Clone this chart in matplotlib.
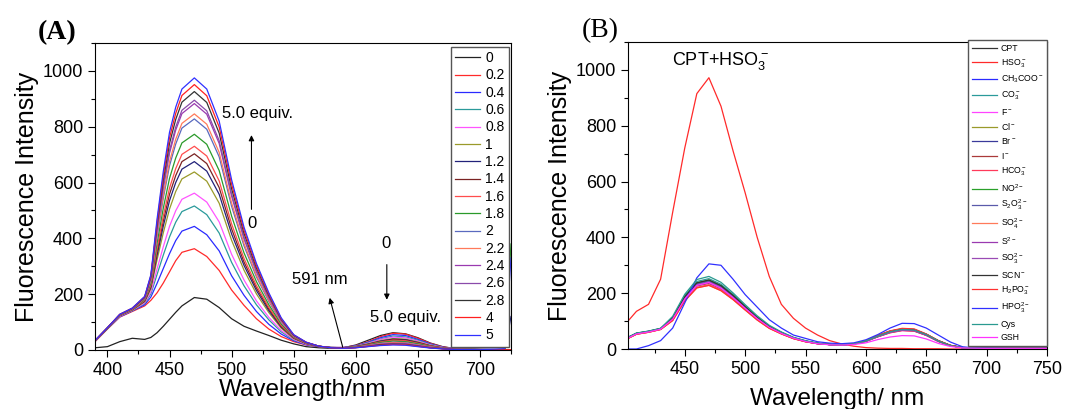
import matplotlib
matplotlib.use("Agg")
import matplotlib.pyplot as plt
from matplotlib.ticker import MultipleLocator

plt.rcParams['font.family'] = ['Liberation Sans', 'DejaVu Sans']
plt.rcParams['mathtext.default'] = 'regular'

# ---------------- panel A: titration data ----------------
wl_a = [390, 400, 410, 420, 430, 435, 440, 445, 450, 455, 460, 470, 480, 490, 500, 510, 520, 530,
        540, 550, 560, 570, 580, 590, 600, 610, 620, 630, 640, 650, 660, 670, 680, 700, 720, 725]

a_0 = [8, 12, 30, 42, 38, 45, 62, 85, 110, 135, 158, 188, 182, 152, 112, 85, 68, 52, 35, 22, 12, 8, 6, 8, 18, 35, 52, 62, 58, 44, 25, 12, 5, 2, 1, 1]
a_02 = [30, 75, 118, 138, 158, 178, 205, 240, 280, 320, 350, 363, 335, 285, 215, 160, 112, 75, 48, 30, 18, 12, 9, 9, 16, 30, 48, 60, 57, 42, 24, 11, 5, 2, 1, 1]
a_04 = [31, 76, 119, 140, 162, 190, 239, 292, 345, 392, 426, 443, 413, 355, 266, 196, 138, 92, 57, 33, 19, 12, 9, 9, 15, 28, 44, 55, 52, 38, 22, 10, 5, 2, 1, 1]
a_06 = [31, 76, 121, 141, 167, 201, 271, 340, 405, 458, 496, 516, 485, 419, 314, 230, 162, 108, 65, 36, 21, 13, 9, 8, 14, 26, 40, 50, 47, 35, 20, 9, 4, 2, 1, 1]
a_08 = [31, 77, 121, 142, 169, 208, 291, 370, 443, 499, 540, 562, 530, 459, 343, 251, 176, 117, 70, 38, 21, 13, 9, 8, 13, 24, 38, 46, 44, 32, 18, 9, 4, 2, 1, 1]
a_1 = [32, 77, 123, 143, 173, 219, 324, 420, 505, 568, 613, 638, 605, 526, 393, 286, 201, 134, 78, 41, 23, 13, 9, 8, 12, 22, 34, 41, 39, 29, 16, 8, 4, 2, 1, 1]
a_12 = [32, 78, 123, 144, 175, 225, 340, 444, 535, 600, 648, 675, 641, 558, 416, 303, 213, 141, 82, 43, 23, 13, 9, 8, 12, 21, 32, 39, 37, 27, 15, 7, 4, 2, 1, 120]
a_14 = [32, 78, 124, 145, 177, 229, 352, 462, 558, 625, 675, 703, 668, 582, 434, 315, 222, 147, 85, 44, 24, 13, 8, 7, 12, 20, 30, 37, 35, 25, 15, 7, 3, 1, 1, 1]
a_16 = [32, 78, 124, 145, 178, 233, 364, 480, 580, 650, 701, 730, 695, 606, 452, 328, 231, 153, 88, 45, 24, 13, 8, 7, 11, 19, 29, 35, 33, 24, 14, 7, 3, 1, 1, 1]
a_18 = [33, 78, 125, 146, 181, 240, 383, 508, 615, 688, 742, 773, 737, 643, 480, 348, 245, 162, 93, 47, 25, 13, 8, 7, 11, 18, 27, 32, 30, 22, 13, 6, 3, 1, 2, 380]
a_2 = [33, 79, 126, 147, 184, 248, 406, 544, 660, 738, 795, 828, 791, 692, 515, 373, 262, 174, 99, 49, 26, 14, 8, 7, 10, 16, 24, 28, 27, 19, 11, 6, 3, 1, 1, 1]
a_22 = [33, 79, 126, 147, 185, 251, 414, 556, 675, 755, 812, 846, 809, 708, 527, 381, 268, 178, 101, 50, 26, 14, 8, 7, 10, 16, 23, 27, 25, 18, 11, 5, 3, 1, 1, 1]
a_24 = [33, 79, 127, 148, 187, 256, 430, 580, 705, 788, 847, 883, 845, 740, 551, 398, 280, 186, 105, 51, 27, 14, 8, 6, 9, 15, 21, 24, 23, 16, 10, 5, 2, 1, 1, 1]
a_26 = [33, 79, 127, 148, 188, 258, 436, 588, 715, 799, 859, 895, 857, 750, 559, 404, 284, 188, 106, 52, 27, 14, 8, 6, 9, 14, 20, 23, 22, 16, 9, 5, 2, 1, 1, 1]
a_28 = [34, 80, 127, 149, 189, 263, 449, 608, 740, 826, 888, 926, 887, 777, 578, 418, 294, 195, 110, 53, 27, 14, 8, 6, 9, 13, 19, 21, 20, 14, 8, 5, 2, 1, 1, 1]
a_4 = [34, 80, 128, 150, 191, 266, 459, 624, 760, 848, 912, 951, 911, 799, 594, 429, 302, 200, 112, 54, 28, 14, 8, 6, 8, 13, 17, 20, 19, 13, 8, 4, 2, 1, 1, 1]
a_5 = [34, 80, 128, 150, 192, 270, 470, 640, 780, 870, 935, 975, 935, 820, 610, 440, 310, 205, 115, 55, 28, 14, 8, 6, 8, 12, 16, 18, 17, 12, 7, 4, 2, 1, 5, 330]

a_series = [a_0, a_02, a_04, a_06, a_08, a_1, a_12, a_14, a_16, a_18, a_2, a_22, a_24, a_26, a_28, a_4, a_5]
a_labels = ['0', '0.2', '0.4', '0.6', '0.8', '1', '1.2', '1.4', '1.6', '1.8', '2', '2.2', '2.4', '2.6', '2.8', '4', '5']
a_colors = ['#222222', '#ff2a2a', '#2a2aff', '#2a9a9a', '#ff55ff', '#9a9a2a', '#22227a', '#7a2222', '#ff4d4d',
            '#2a9a2a', '#5a6abf', '#ff7a5a', '#9a3ab0', '#8a4aaa', '#333333', '#ff2020', '#3030ff']

# ---------------- panel B: selectivity data ----------------
wl_b = [403, 410, 420, 430, 440, 450, 460, 470, 480, 490, 500, 510, 520, 530, 540, 550, 560,
        570, 580, 590, 600, 610, 620, 630, 640, 650, 660, 670, 680, 690, 700, 720, 750]

b_cpt = [40, 55, 62, 72, 110, 185, 235, 245, 225, 190, 150, 112, 80, 58, 40, 28, 20, 16, 15, 18, 29, 46, 62, 70, 68, 52, 29, 12, 5, 3, 2, 2, 2]
b_hso3 = [100, 135, 160, 250, 490, 720, 915, 972, 870, 710, 560, 400, 260, 160, 110, 75, 50, 30, 18, 10, 5, 3, 2, 2, 1, 1, 1, 0, 0, 0, 0, 0, 0]
b_ch3coo = [41, 56, 63, 72, 108, 181, 230, 240, 220, 186, 147, 110, 78, 57, 39, 27, 20, 16, 15, 18, 28, 45, 60, 68, 66, 50, 28, 12, 5, 3, 2, 2, 2]
b_co3 = [42, 57, 64, 74, 113, 191, 242, 252, 232, 196, 155, 115, 82, 60, 41, 29, 21, 16, 15, 18, 29, 46, 62, 70, 68, 52, 29, 12, 5, 3, 2, 2, 2]
b_f = [39, 54, 61, 71, 107, 179, 228, 238, 218, 184, 146, 109, 78, 56, 39, 27, 19, 16, 15, 18, 27, 44, 58, 66, 64, 49, 27, 12, 5, 3, 2, 2, 2]
b_cl = [40, 55, 62, 72, 110, 185, 235, 245, 225, 190, 150, 112, 80, 58, 40, 28, 20, 16, 15, 18, 28, 46, 61, 69, 67, 51, 28, 12, 5, 3, 2, 2, 2]
b_br = [40, 55, 62, 72, 109, 183, 233, 243, 223, 188, 149, 111, 79, 57, 40, 28, 20, 16, 15, 18, 29, 46, 62, 70, 68, 52, 29, 12, 5, 3, 2, 2, 2]
b_i = [39, 54, 61, 71, 106, 178, 226, 235, 216, 182, 144, 108, 77, 56, 38, 27, 19, 16, 15, 18, 28, 44, 59, 67, 65, 49, 28, 12, 5, 3, 2, 2, 2]
b_hco3 = [38, 53, 60, 70, 103, 174, 221, 230, 212, 179, 141, 105, 75, 55, 38, 26, 19, 16, 15, 18, 27, 44, 58, 66, 64, 49, 27, 12, 5, 3, 2, 2, 2]
b_no2 = [41, 56, 63, 73, 111, 187, 237, 247, 227, 192, 152, 113, 81, 59, 40, 28, 20, 16, 15, 18, 29, 47, 63, 71, 69, 52, 29, 13, 5, 3, 2, 2, 2]
b_s2o3 = [40, 55, 62, 72, 109, 183, 233, 243, 223, 188, 149, 111, 79, 57, 40, 28, 20, 16, 15, 18, 28, 45, 60, 68, 66, 50, 28, 12, 5, 3, 2, 2, 2]
b_so4 = [38, 53, 60, 70, 102, 172, 219, 228, 209, 177, 140, 104, 74, 54, 37, 26, 19, 16, 15, 18, 30, 48, 64, 72, 70, 53, 30, 13, 5, 3, 2, 2, 2]
b_s = [40, 55, 62, 72, 107, 179, 228, 238, 218, 184, 146, 109, 78, 56, 39, 27, 19, 16, 15, 18, 28, 46, 61, 69, 67, 51, 28, 12, 5, 3, 2, 2, 2]
b_so3 = [40, 55, 62, 72, 108, 181, 230, 240, 220, 186, 147, 110, 78, 57, 39, 27, 20, 16, 15, 18, 28, 45, 60, 68, 66, 50, 28, 12, 5, 3, 2, 2, 2]
b_scn = [41, 56, 63, 73, 111, 187, 237, 247, 227, 192, 152, 113, 81, 59, 40, 28, 20, 16, 15, 18, 30, 48, 64, 72, 70, 53, 30, 13, 5, 3, 2, 2, 2]
b_h2po3 = [38, 53, 60, 70, 102, 172, 219, 228, 209, 177, 140, 104, 74, 54, 37, 26, 19, 16, 15, 18, 30, 49, 65, 74, 72, 54, 30, 13, 5, 3, 2, 2, 2]
b_hpo3 = [0, 0, 12, 30, 75, 165, 255, 305, 300, 250, 195, 150, 105, 75, 50, 38, 26, 21, 19, 22, 33, 52, 75, 92, 91, 75, 50, 25, 8, 4, 3, 2, 2]
b_cys = [42, 57, 64, 74, 117, 196, 249, 260, 239, 201, 159, 119, 85, 61, 42, 30, 21, 16, 15, 18, 29, 46, 62, 70, 68, 52, 29, 12, 5, 3, 2, 2, 2]
b_gsh = [39, 54, 61, 71, 107, 179, 228, 238, 218, 184, 146, 109, 78, 56, 39, 27, 19, 15, 14, 16, 22, 34, 43, 48, 47, 36, 20, 9, 4, 3, 2, 2, 2]

b_series = [b_cpt, b_hso3, b_ch3coo, b_co3, b_f, b_cl, b_br, b_i, b_hco3, b_no2,
            b_s2o3, b_so4, b_s, b_so3, b_scn, b_h2po3, b_hpo3, b_cys, b_gsh]
b_labels = ['CPT', 'HSO$_3^-$', 'CH$_3$COO$^-$', 'CO$_3^-$', 'F$^-$', 'Cl$^-$', 'Br$^-$', 'I$^-$',
            'HCO$_3^-$', 'NO$^{2-}$', 'S$_2$O$_3^{2-}$', 'SO$_4^{2-}$', 'S$^{2-}$', 'SO$_3^{2-}$',
            'SCN$^-$', 'H$_2$PO$_3^-$', 'HPO$_3^{2-}$', 'Cys', 'GSH']
b_colors = ['#333333', '#ff2a2a', '#2a2aff', '#2a9a9a', '#ff44ff', '#9a9a2a', '#3a3a9a', '#aa3a3a',
            '#ff3a5a', '#2aa02a', '#5a5aaa', '#ff7a5a', '#9a3ab0', '#9a4ab5', '#333333', '#ff3030',
            '#3030ff', '#2a9a90', '#ff33ff']

W, H = 1065, 409
fig = plt.figure(figsize=(W / 100, H / 100), dpi=100)
ax1 = fig.add_axes([95 / W, 1 - 350 / H, 416 / W, 307 / H])
ax2 = fig.add_axes([628 / W, 1 - 349 / H, 419 / W, 307 / H])


def style(ax, xlim):
    ax.set_xlim(*xlim)
    ax.set_ylim(0, 1100)
    ax.xaxis.set_major_locator(MultipleLocator(50))
    ax.xaxis.set_minor_locator(MultipleLocator(25))
    ax.yaxis.set_major_locator(MultipleLocator(200))
    ax.yaxis.set_minor_locator(MultipleLocator(100))
    ax.tick_params(which='both', direction='out', width=0.8, labelsize=13, top=False, right=False)
    ax.tick_params(which='major', length=5)
    ax.tick_params(which='minor', length=3)
    for sp in ax.spines.values():
        sp.set_linewidth(0.8)
    ax.set_ylabel('Fluorescence Intensity', fontsize=18, labelpad=3)


# panel A
for y, lab, c in zip(a_series, a_labels, a_colors):
    ax1.plot(wl_a, y, color=c, lw=0.9, label=lab)
style(ax1, (390, 725))
ax1.set_xlabel('Wavelength/nm', fontsize=17.5, labelpad=0)
ax1.legend(loc='upper right', bbox_to_anchor=(0.995, 0.987), borderaxespad=0, fontsize=10,
           handlelength=1.8, handletextpad=0.4, labelspacing=0.24, borderpad=0.3,
           frameon=True, fancybox=False, edgecolor='#555555', framealpha=1)

arr = dict(arrowstyle='-|>', color='k', lw=0.8, mutation_scale=8, shrinkA=0, shrinkB=0)
ax1.annotate('', xy=(516, 770), xytext=(516, 504), arrowprops=arr)
ax1.text(492, 849, '5.0 equiv.', fontsize=12, ha='left', va='center')
ax1.text(516.5, 455, '0', fontsize=12, ha='center', va='center')
ax1.annotate('', xy=(625, 180), xytext=(625, 306), arrowprops=arr)
ax1.text(624, 383, '0', fontsize=12, ha='center', va='center')
ax1.text(640, 118, '5.0 equiv.', fontsize=12, ha='center', va='center')
ax1.annotate('', xy=(579, 187), xytext=(589.5, 10), arrowprops=arr)
ax1.text(571, 251, '591 nm', fontsize=12, ha='center', va='center')

# panel B
for y, lab, c in zip(b_series, b_labels, b_colors):
    ax2.plot(wl_b, y, color=c, lw=0.9, label=lab)
style(ax2, (403, 750))
ax2.set_xlabel('Wavelength/ nm', fontsize=17.5, labelpad=7)
ax2.legend(loc='upper right', bbox_to_anchor=(1.0, 1.006), borderaxespad=0, fontsize=6.3,
           handlelength=2.9, handletextpad=0.4, labelspacing=0.5, borderpad=0.4,
           frameon=True, fancybox=False, edgecolor='#555555', framealpha=1)
ax2.text(439.5, 1032, 'CPT+HSO$_3^-$', fontsize=13, ha='left', va='center')

fig.text(57 / W, 1 - 33 / H, '(A)', fontsize=20, family='Liberation Serif', weight='bold',
         ha='center', va='center')
fig.text(600 / W, 1 - 31 / H, '(B)', fontsize=20, family='Liberation Serif',
         ha='center', va='center')

fig.savefig('out.png', dpi=100)
